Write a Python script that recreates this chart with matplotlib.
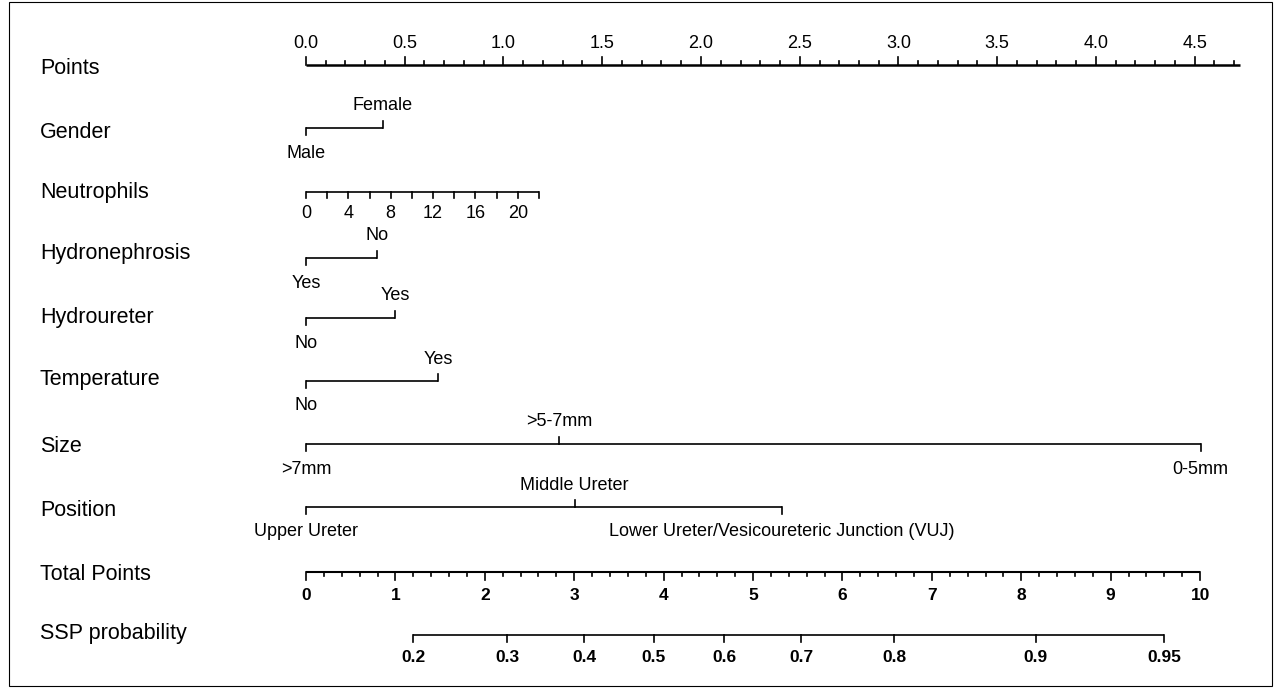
import matplotlib.pyplot as plt
from matplotlib.patches import Rectangle

plt.rcParams['font.family'] = ['Liberation Sans', 'DejaVu Sans']

# ---- data (positions in "Points") ----
points_major = [0.0, 0.5, 1.0, 1.5, 2.0, 2.5, 3.0, 3.5, 4.0, 4.5]
points_labels = ["0.0", "0.5", "1.0", "1.5", "2.0", "2.5", "3.0", "3.5", "4.0", "4.5"]
points_end = 4.73

gender_levels = ["Male", "Female"]
gender_pts = [0.0, 0.39]

neutro_values = [0, 2, 4, 6, 8, 10, 12, 14, 16, 18, 20, 22]
neutro_labels = [0, 4, 8, 12, 16, 20]
neutro_pts_per_unit = 1.18 / 22

hydroneph_levels = ["Yes", "No"]
hydroneph_pts = [0.0, 0.36]

hydrouret_levels = ["No", "Yes"]
hydrouret_pts = [0.0, 0.45]

temp_levels = ["No", "Yes"]
temp_pts = [0.0, 0.67]

size_levels = [">7mm", ">5-7mm", "0-5mm"]
size_pts = [0.0, 1.28, 4.53]

position_levels = ["Upper Ureter", "Middle Ureter",
                   "Lower Ureter/Vesicoureteric Junction (VUJ)"]
position_pts = [0.0, 1.36, 2.41]

total_major = [0, 1, 2, 3, 4, 5, 6, 7, 8, 9, 10]
total_to_points = 4.527 / 10   # 10 total points sits under 4.53 points

ssp_labels = ["0.2", "0.3", "0.4", "0.5", "0.6", "0.7", "0.8", "0.9", "0.95"]
ssp_total = [1.20, 2.25, 3.11, 3.89, 4.68, 5.54, 6.58, 8.16, 9.60]

row_names = ["Points", "Gender", "Neutrophils", "Hydronephrosis", "Hydroureter",
             "Temperature", "Size", "Position", "Total Points", "SSP probability"]

# ---- layout (pixel rows) ----
W, H = 1275, 688
x0_px, px_per_pt = 306, 197.5
row_label_y = [68, 133, 192, 253, 318, 380, 447, 510, 574, 634]
line_y = [65, 128, 192, 258, 318, 381, 444, 507, 572, 635]

LW = 1.2
TXT = 13
fig = plt.figure(figsize=(W / 100, H / 100), dpi=100)
ax = fig.add_axes([0, 0, 1, 1])
ax.set_xlim(-x0_px / px_per_pt, (W - x0_px) / px_per_pt)
ax.set_ylim(H, 0)
ax.axis('off')


def cat_scale(y, pts, levels):
    # categorical row: alternate labels below / above, ticks point to label
    ax.plot([min(pts), max(pts)], [y, y], color='black', lw=LW, solid_capstyle='butt')
    order = sorted(range(len(pts)), key=lambda i: pts[i])
    for k, i in enumerate(order):
        up = k % 2 == 1
        ax.plot([pts[i], pts[i]], [y, y - 7 if up else y + 7], color='black', lw=LW)
        ax.text(pts[i], y - 22 if up else y + 25, levels[i], ha='center', va='center',
                fontsize=TXT)


# Points scale (ticks up, labels above)
ax.plot([0, points_end], [line_y[0], line_y[0]], color='black', lw=1.8, solid_capstyle='butt')
minor = [i / 10 for i in range(0, 48)]
for t in minor:
    is_major = any(abs(t - m) < 1e-9 for m in points_major)
    ax.plot([t, t], [line_y[0], line_y[0] - (8 if is_major else 4)], color='black', lw=LW)
for t, lab in zip(points_major, points_labels):
    ax.text(t, line_y[0] - 21, lab, ha='center', va='center', fontsize=TXT)

# categorical rows
cat_scale(line_y[1], gender_pts, gender_levels)

# Neutrophils (ticks down, labels below)
yn = line_y[2]
npts = [v * neutro_pts_per_unit for v in neutro_values]
ax.plot([npts[0], npts[-1]], [yn, yn], color='black', lw=LW, solid_capstyle='butt')
for p in npts:
    ax.plot([p, p], [yn, yn + 6], color='black', lw=LW)
for v in neutro_labels:
    ax.text(v * neutro_pts_per_unit, yn + 22, str(v), ha='center', va='center', fontsize=TXT)

cat_scale(line_y[3], hydroneph_pts, hydroneph_levels)
cat_scale(line_y[4], hydrouret_pts, hydrouret_levels)
cat_scale(line_y[5], temp_pts, temp_levels)
cat_scale(line_y[6], size_pts, size_levels)
cat_scale(line_y[7], position_pts, position_levels)

# Total Points (ticks down, labels below)
yt = line_y[8]
ax.plot([0, total_major[-1] * total_to_points], [yt, yt], color='black', lw=1.5,
        solid_capstyle='butt')
for i in range(0, 51):
    t = i * 0.2
    is_major = i % 5 == 0
    ax.plot([t * total_to_points] * 2, [yt, yt + (8 if is_major else 4)], color='black', lw=LW)
for t in total_major:
    ax.text(t * total_to_points, yt + 23, str(t), ha='center', va='center',
            fontsize=12.5, fontweight='bold')

# SSP probability (ticks down, labels below)
ys = line_y[9]
sp = [t * total_to_points for t in ssp_total]
ax.plot([sp[0], sp[-1]], [ys, ys], color='black', lw=LW, solid_capstyle='butt')
for p, lab in zip(sp, ssp_labels):
    ax.plot([p, p], [ys, ys + 7], color='black', lw=LW)
    ax.text(p, ys + 23, lab, ha='center', va='center', fontsize=12.5, fontweight='bold')

# row names
for name, y in zip(row_names, row_label_y):
    fig.text(40 / W, 1 - y / H, name, fontsize=15.5, va='center', ha='left')

fig.patches.append(Rectangle((9 / W, 2 / H), 1 - 12 / W, 1 - 4 / H, transform=fig.transFigure,
                             fill=False, edgecolor='black', lw=0.8))

fig.savefig('out.png', dpi=100)
